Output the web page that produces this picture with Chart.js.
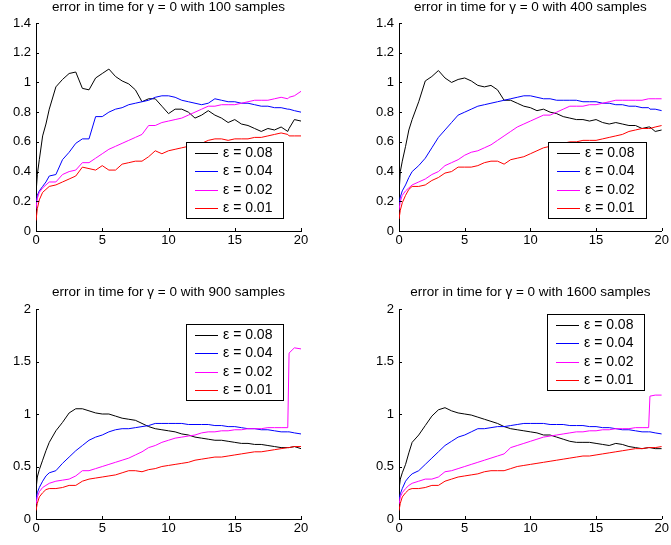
<!DOCTYPE html>
<html><head><meta charset="utf-8">
<script src="https://cdn.jsdelivr.net/npm/chart.js@4"></script>
<style>
html,body{margin:0;padding:0;background:#fff;width:671px;height:545px;overflow:hidden;}
.box{position:absolute;}
canvas{display:block;}
</style></head><body>
<div class="box" style="left:0;top:0;"><canvas id="c0" width="335" height="270"></canvas></div>
<div class="box" style="left:335px;top:0;"><canvas id="c1" width="336" height="270"></canvas></div>
<div class="box" style="left:0;top:270px;"><canvas id="c2" width="335" height="275"></canvas></div>
<div class="box" style="left:335px;top:270px;"><canvas id="c3" width="336" height="275"></canvas></div>
<script>
// ---- data ----
const times = [0,0.1,0.25,0.5,0.75,1,1.5,2,2.5,3,3.5,4,4.5,5,5.5,6,6.5,7,7.5,8,8.5,9,9.5,10,10.5,11,11.5,12,12.5,13,13.5,14,14.5,15,15.5,16,16.5,17,17.5,18,18.5,19,19.1,19.5,20];
const seriesLabels = ['ε = 0.08','ε = 0.04','ε = 0.02','ε = 0.01'];
const seriesColors = ['#000000','#0000ff','#ff00ff','#ff0000'];
const titles = ['error in time for γ = 0 with 100 samples','error in time for γ = 0 with 400 samples','error in time for γ = 0 with 900 samples','error in time for γ = 0 with 1600 samples'];
const xTicks = [0,5,10,15,20];
const xTickLabels = ['0','5','10','15','20'];
const yTicksTop = [0,0.2,0.4,0.6,0.8,1,1.2,1.4];
const yTickLabelsTop = ['0','0.2','0.4','0.6','0.8','1','1.2','1.4'];
const yTicksBottom = [0,0.5,1,1.5,2];
const yTickLabelsBottom = ['0','0.5','1','1.5','2'];

// 100 samples
const s100_e08 = [0.25,0.38,0.48,0.64,0.72,0.82,0.97,1.02,1.06,1.07,0.96,0.95,1.03,1.06,1.09,1.04,1.01,0.99,0.95,0.87,0.89,0.89,0.84,0.79,0.82,0.82,0.80,0.76,0.78,0.81,0.78,0.76,0.73,0.75,0.72,0.71,0.69,0.67,0.69,0.68,0.70,0.67,0.69,0.75,0.74];
const s100_e04 = [0.18,0.24,0.27,0.30,0.33,0.37,0.38,0.48,0.53,0.59,0.62,0.62,0.77,0.77,0.80,0.82,0.83,0.85,0.86,0.87,0.88,0.90,0.91,0.91,0.90,0.88,0.87,0.86,0.85,0.86,0.89,0.88,0.87,0.87,0.86,0.86,0.85,0.84,0.84,0.83,0.83,0.82,0.82,0.81,0.80];
const s100_e02 = [0.15,0.22,0.26,0.29,0.31,0.33,0.33,0.38,0.40,0.41,0.46,0.46,0.49,0.52,0.55,0.57,0.59,0.61,0.63,0.65,0.71,0.71,0.73,0.74,0.75,0.76,0.78,0.80,0.82,0.84,0.84,0.85,0.85,0.85,0.86,0.87,0.88,0.88,0.88,0.89,0.90,0.89,0.90,0.91,0.94];
const s100_e01 = [0.07,0.15,0.21,0.26,0.28,0.30,0.31,0.33,0.35,0.37,0.43,0.42,0.41,0.44,0.41,0.41,0.45,0.46,0.47,0.47,0.50,0.54,0.52,0.54,0.55,0.56,0.57,0.58,0.59,0.61,0.62,0.62,0.61,0.62,0.62,0.62,0.63,0.63,0.64,0.65,0.66,0.65,0.64,0.64,0.64];
// 400 samples
const s400_e08 = [0.25,0.40,0.47,0.57,0.68,0.75,0.87,1.01,1.04,1.08,1.03,1.00,1.02,1.03,1.01,0.98,0.97,0.98,0.95,0.88,0.88,0.86,0.84,0.83,0.81,0.82,0.80,0.79,0.77,0.76,0.75,0.75,0.74,0.75,0.73,0.72,0.73,0.72,0.71,0.71,0.69,0.70,0.70,0.67,0.68];
const s400_e04 = [0.18,0.23,0.27,0.31,0.36,0.40,0.44,0.49,0.56,0.63,0.68,0.73,0.78,0.80,0.82,0.84,0.85,0.86,0.87,0.88,0.89,0.90,0.91,0.91,0.90,0.89,0.89,0.88,0.88,0.88,0.88,0.87,0.87,0.87,0.86,0.86,0.85,0.85,0.84,0.84,0.83,0.83,0.82,0.82,0.81];
const s400_e02 = [0.14,0.20,0.24,0.27,0.29,0.31,0.33,0.35,0.38,0.40,0.44,0.46,0.48,0.51,0.53,0.54,0.56,0.58,0.61,0.64,0.67,0.70,0.72,0.74,0.76,0.78,0.78,0.80,0.82,0.84,0.84,0.84,0.85,0.85,0.86,0.87,0.88,0.88,0.88,0.88,0.88,0.89,0.89,0.89,0.89];
const s400_e01 = [0.08,0.14,0.19,0.24,0.28,0.30,0.30,0.31,0.34,0.36,0.39,0.40,0.43,0.43,0.43,0.44,0.46,0.47,0.47,0.45,0.48,0.49,0.50,0.52,0.54,0.56,0.57,0.58,0.59,0.60,0.60,0.61,0.61,0.61,0.62,0.63,0.64,0.65,0.67,0.68,0.69,0.69,0.69,0.70,0.71];
// 900 samples
const s900_e08 = [0.28,0.40,0.47,0.56,0.65,0.73,0.84,0.92,1.01,1.05,1.05,1.03,1.01,1.00,1.00,0.98,0.96,0.95,0.94,0.91,0.88,0.86,0.85,0.84,0.83,0.81,0.80,0.78,0.77,0.76,0.75,0.75,0.74,0.73,0.72,0.72,0.71,0.71,0.70,0.69,0.68,0.68,0.68,0.69,0.67];
const s900_e04 = [0.18,0.25,0.30,0.36,0.41,0.44,0.46,0.53,0.59,0.65,0.70,0.75,0.78,0.80,0.83,0.85,0.86,0.86,0.87,0.88,0.89,0.91,0.91,0.91,0.91,0.91,0.90,0.90,0.90,0.90,0.89,0.89,0.88,0.88,0.87,0.86,0.86,0.85,0.85,0.84,0.83,0.83,0.83,0.82,0.81];
const s900_e02 = [0.14,0.21,0.26,0.30,0.32,0.34,0.36,0.37,0.38,0.41,0.46,0.46,0.48,0.50,0.52,0.54,0.56,0.58,0.61,0.64,0.68,0.70,0.73,0.75,0.77,0.78,0.79,0.80,0.82,0.83,0.83,0.84,0.84,0.85,0.85,0.86,0.86,0.86,0.87,0.87,0.87,0.87,1.58,1.63,1.62];
const s900_e01 = [0.08,0.15,0.21,0.25,0.28,0.29,0.29,0.30,0.32,0.32,0.36,0.38,0.39,0.40,0.41,0.42,0.44,0.46,0.46,0.45,0.47,0.48,0.50,0.51,0.52,0.53,0.54,0.56,0.57,0.58,0.59,0.59,0.60,0.61,0.62,0.63,0.64,0.64,0.65,0.66,0.67,0.68,0.68,0.69,0.69];
// 1600 samples
const s1600_e08 = [0.28,0.38,0.44,0.52,0.63,0.73,0.80,0.89,0.98,1.04,1.06,1.03,1.01,1.00,0.99,0.97,0.95,0.93,0.91,0.88,0.86,0.85,0.84,0.83,0.82,0.80,0.80,0.78,0.76,0.74,0.73,0.73,0.73,0.72,0.71,0.70,0.72,0.71,0.69,0.68,0.67,0.68,0.68,0.67,0.67];
const s1600_e04 = [0.18,0.24,0.29,0.36,0.40,0.43,0.46,0.52,0.58,0.64,0.70,0.74,0.78,0.80,0.83,0.86,0.86,0.87,0.88,0.88,0.89,0.90,0.91,0.91,0.91,0.91,0.90,0.90,0.90,0.89,0.89,0.89,0.88,0.88,0.87,0.87,0.86,0.85,0.85,0.84,0.83,0.83,0.83,0.82,0.81];
const s1600_e02 = [0.14,0.21,0.25,0.29,0.32,0.34,0.36,0.38,0.38,0.40,0.45,0.46,0.48,0.50,0.52,0.54,0.56,0.58,0.60,0.62,0.68,0.70,0.72,0.74,0.76,0.78,0.79,0.80,0.81,0.82,0.83,0.83,0.84,0.84,0.85,0.85,0.86,0.86,0.86,0.87,0.87,0.87,1.17,1.18,1.18];
const s1600_e01 = [0.08,0.15,0.21,0.25,0.28,0.29,0.29,0.30,0.32,0.32,0.36,0.38,0.40,0.41,0.42,0.43,0.45,0.46,0.46,0.46,0.48,0.50,0.51,0.52,0.53,0.54,0.55,0.56,0.57,0.58,0.59,0.60,0.60,0.61,0.62,0.63,0.64,0.65,0.66,0.67,0.67,0.68,0.68,0.68,0.69];

const FONT = "'Liberation Sans', Arial, Helvetica, sans-serif";

const innerTicks = {
  id: 'innerTicks',
  afterDatasetsDraw(chart) {
    const {ctx, chartArea: a, scales: {x, y}} = chart;
    ctx.save();
    ctx.strokeStyle = '#000'; ctx.lineWidth = 1;
    ctx.beginPath();
    y.ticks.forEach(t => { const py = Math.round(y.getPixelForValue(t.value)) + 0.5; ctx.moveTo(a.left, py); ctx.lineTo(a.left + 3, py); });
    x.ticks.forEach(t => { const px = Math.round(x.getPixelForValue(t.value)) + 0.5; ctx.moveTo(px, a.bottom); ctx.lineTo(px, a.bottom - 3); });
    ctx.stroke();
    ctx.restore();
  }
};

const boxLegend = {
  id: 'boxLegend',
  afterDatasetsDraw(chart, args, o) {
    const {ctx, chartArea: a} = chart;
    const w = o.width, h = o.height;
    const left = Math.round(a.right - o.right - w);
    const top = Math.round(o.top != null ? a.top + o.top : a.bottom - o.bottom - h);
    ctx.save();
    ctx.fillStyle = '#fff';
    ctx.fillRect(left, top, w, h);
    ctx.strokeStyle = '#000'; ctx.lineWidth = 1;
    ctx.strokeRect(left + 0.5, top + 0.5, w, h);
    ctx.font = '14px ' + FONT;
    ctx.textBaseline = 'middle';
    ctx.textAlign = 'left';
    chart.data.datasets.forEach((ds, i) => {
      const cy = Math.round(top + o.firstRow + i * o.rowGap) + 0.5;
      ctx.strokeStyle = ds.borderColor; ctx.lineWidth = 1;
      ctx.beginPath(); ctx.moveTo(left + 9, cy); ctx.lineTo(left + 32, cy); ctx.stroke();
      ctx.fillStyle = '#000';
      ctx.fillText(ds.label, left + 37, cy);
    });
    ctx.restore();
  }
};

function makeChart(id, title, series, yMax, yTicks, yLabels, g, leg) {
  const datasets = series.map((vals, i) => ({
    label: seriesLabels[i],
    data: times.map((t, k) => ({x: t, y: vals[k]})),
    borderColor: seriesColors[i],
    backgroundColor: seriesColors[i],
    borderWidth: 1,
    pointRadius: 0,
    tension: 0,
    fill: false,
    order: 4 - i
  }));
  new Chart(document.getElementById(id), {
    type: 'line',
    data: {datasets},
    plugins: [innerTicks, boxLegend],
    options: {
      responsive: false,
      animation: false,
      events: [],
      layout: {padding: {left: 0, right: g.padRight, top: 0, bottom: 0}},
      plugins: {
        legend: {display: false},
        tooltip: {enabled: false},
        title: {
          display: true, text: title, fullSize: false, color: '#000',
          font: {family: FONT, size: 13.5, weight: 'normal', lineHeight: 1},
          padding: {top: g.titleTop, bottom: g.titleBottom}
        },
        boxLegend: leg
      },
      scales: {
        x: {
          type: 'linear', min: 0, max: 20,
          afterBuildTicks: s => { s.ticks = xTicks.map(v => ({value: v})); },
          afterFit: s => { s.height = g.xAxisHeight; },
          ticks: {color: '#000', font: {family: FONT, size: 13}, padding: 2, maxRotation: 0,
                  callback: v => xTickLabels[xTicks.indexOf(v)]},
          grid: {display: false, drawTicks: false},
          border: {display: true, color: '#000', width: 1}
        },
        y: {
          type: 'linear', min: 0, max: yMax,
          afterBuildTicks: s => { s.ticks = yTicks.map(v => ({value: v})); },
          afterFit: s => { s.width = g.yAxisWidth; },
          ticks: {color: '#000', font: {family: FONT, size: 13}, padding: 5,
                  callback: v => yLabels[yTicks.indexOf(v)]},
          grid: {display: false, drawTicks: false},
          border: {display: true, color: '#000', width: 1}
        }
      }
    }
  });
}

const legTop = {width: 97, height: 76, firstRow: 11.3, rowGap: 18.1};
makeChart('c0', titles[0], [s100_e08, s100_e04, s100_e02, s100_e01], 1.4, yTicksTop, yTickLabelsTop,
  {padRight: 34, yAxisWidth: 36, xAxisHeight: 39, titleTop: 0.5, titleBottom: 9},
  Object.assign({}, legTop, {right: 18, bottom: 13}));
makeChart('c1', titles[1], [s400_e08, s400_e04, s400_e02, s400_e01], 1.4, yTicksTop, yTickLabelsTop,
  {padRight: 8, yAxisWidth: 64, xAxisHeight: 39, titleTop: 0.5, titleBottom: 9},
  Object.assign({}, legTop, {width: 98, right: 16, bottom: 13}));
makeChart('c2', titles[2], [s900_e08, s900_e04, s900_e02, s900_e01], 2, yTicksBottom, yTickLabelsBottom,
  {padRight: 34, yAxisWidth: 36, xAxisHeight: 26, titleTop: 16, titleBottom: 9.5},
  Object.assign({}, legTop, {right: 18, top: 15}));
makeChart('c3', titles[3], [s1600_e08, s1600_e04, s1600_e02, s1600_e01], 2, yTicksBottom, yTickLabelsBottom,
  {padRight: 8, yAxisWidth: 64, xAxisHeight: 26, titleTop: 16, titleBottom: 9.5},
  Object.assign({}, legTop, {right: 18, top: 5}));
</script>
</body></html>
